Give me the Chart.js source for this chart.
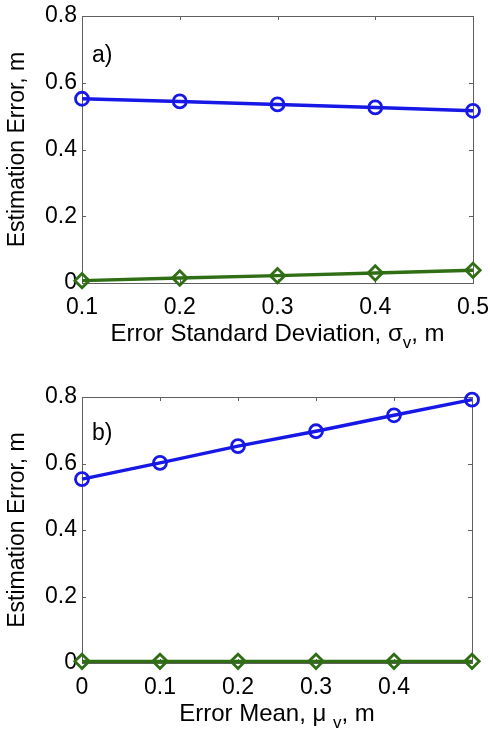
<!DOCTYPE html>
<html><head><meta charset="utf-8">
<script src="https://cdn.jsdelivr.net/npm/chart.js@4"></script>
<style>html,body{margin:0;padding:0;background:#fff;} canvas{display:block;}</style>
</head><body>
<canvas id="a" width="490" height="366"></canvas>
<canvas id="b" width="490" height="366"></canvas>
<script>
// ---- data ----
const sigmaX = [0.1, 0.2, 0.3, 0.4, 0.5];
const sigmaCircle = [0.552, 0.544, 0.535, 0.526, 0.516];
const sigmaDiamond = [0.007, 0.015, 0.022, 0.030, 0.038];
const muX = [0, 0.1, 0.2, 0.3, 0.4, 0.5];
const muCircle = [0.553, 0.602, 0.652, 0.697, 0.745, 0.792];
const muDiamond = [0.005, 0.005, 0.005, 0.005, 0.005, 0.005];
const yTicks = [0, 0.2, 0.4, 0.6, 0.8];
const yTickLabels = ['0', '0.2', '0.4', '0.6', '0.8'];
const sigmaTicks = [0.1, 0.2, 0.3, 0.4, 0.5];
const sigmaTickLabels = ['0.1', '0.2', '0.3', '0.4', '0.5'];
const muTicks = [0, 0.1, 0.2, 0.3, 0.4, 0.5];
const muTickLabels = ['0', '0.1', '0.2', '0.3', '0.4', ''];
const yTitle = 'Estimation Error, m';
const sigmaTitle = [['Error Standard Deviation, σ', false], ['v', true], [', m', false]];
const muTitle = [['Error Mean, μ ', false], ['v', true], [', m', false]];

const FONT = '"Liberation Sans", Arial, Helvetica, sans-serif';
const BLUE = '#1717e6';
const GREEN = '#2f6e14';

const framePlugin = {
  id: 'frame',
  beforeDatasetsDraw(chart, args, o) {
    const ctx = chart.ctx, a = chart.chartArea;
    const xs = chart.scales.x, ys = chart.scales.y;
    ctx.save();
    ctx.strokeStyle = '#606060';
    ctx.lineWidth = 1;
    ctx.strokeRect(Math.round(a.left) + 0.5, Math.round(a.top) + 0.5,
      Math.round(a.right - a.left), Math.round(a.bottom - a.top));
    ctx.beginPath();
    xs.ticks.forEach(t => {
      const p = Math.round(xs.getPixelForValue(t.value)) + 0.5;
      ctx.moveTo(p, a.bottom); ctx.lineTo(p, a.bottom - 4);
      ctx.moveTo(p, a.top); ctx.lineTo(p, a.top + 4);
    });
    ys.ticks.forEach(t => {
      const p = Math.round(ys.getPixelForValue(t.value)) + 0.5;
      ctx.moveTo(a.left, p); ctx.lineTo(a.left + 4, p);
      ctx.moveTo(a.right, p); ctx.lineTo(a.right - 4, p);
    });
    ctx.stroke();
    ctx.restore();
  },
  afterDraw(chart, args, o) {
    const ctx = chart.ctx, a = chart.chartArea;
    ctx.save();
    ctx.fillStyle = '#000';
    // panel label
    ctx.font = '23px ' + FONT;
    ctx.textAlign = 'left';
    ctx.textBaseline = 'alphabetic';
    ctx.fillText(o.panel, a.left + 10, a.top + o.panelDy);
    // y title
    ctx.save();
    ctx.translate(18, (a.top + a.bottom) / 2);
    ctx.rotate(-Math.PI / 2);
    ctx.textAlign = 'center';
    ctx.textBaseline = 'middle';
    ctx.font = '23px ' + FONT;
    ctx.fillText(yTitle, 0, 0);
    ctx.restore();
    // x title with subscript
    const big = '24px ' + FONT, small = '17px ' + FONT;
    let total = 0;
    o.xTitle.forEach(([t, sub]) => { ctx.font = sub ? small : big; total += ctx.measureText(t).width; });
    let x = (a.left + a.right) / 2 - total / 2;
    const base = a.bottom + 57.5;
    o.xTitle.forEach(([t, sub]) => {
      ctx.font = sub ? small : big;
      ctx.fillText(t, x, sub ? base + 7 : base);
      x += ctx.measureText(t).width;
    });
    ctx.restore();
  }
};

function makeChart(id, xs, circ, diam, xTicks, xLabels, xMin, xMax, padTop, padRight, xAxisH, panel, panelDy, xTitle) {
  const tickFont = { family: FONT, size: 23 };
  return new Chart(document.getElementById(id), {
    type: 'line',
    data: {
      datasets: [
        { data: xs.map((v, i) => ({ x: v, y: circ[i] })), borderColor: BLUE, borderWidth: 3.4,
          pointStyle: 'circle', pointRadius: 6.5, pointBorderWidth: 2.8, pointBorderColor: BLUE,
          pointBackgroundColor: 'rgba(0,0,0,0)', clip: false, tension: 0 },
        { data: xs.map((v, i) => ({ x: v, y: diam[i] })), borderColor: GREEN, borderWidth: 3.4,
          pointStyle: 'rectRot', pointRadius: 7.2, pointBorderWidth: 2.8, pointBorderColor: GREEN,
          pointBackgroundColor: 'rgba(0,0,0,0)', clip: false, tension: 0 }
      ]
    },
    options: {
      responsive: false,
      animation: false,
      layout: { padding: { top: padTop, right: padRight, left: 0, bottom: 0 } },
      plugins: {
        legend: { display: false }, tooltip: { enabled: false },
        frame: { panel, panelDy, xTitle }
      },
      scales: {
        x: {
          type: 'linear', min: xMin, max: xMax,
          afterBuildTicks: s => { s.ticks = xTicks.map(v => ({ value: v })); },
          afterFit: s => { s.height = xAxisH; s.paddingLeft = 0; s.paddingRight = 0; },
          ticks: { callback: (v, i) => xLabels[i], font: tickFont, color: '#000', padding: 11,
            maxRotation: 0, autoSkip: false },
          grid: { display: false, drawTicks: false },
          border: { display: false }
        },
        y: {
          type: 'linear', min: 0, max: 0.8,
          afterBuildTicks: s => { s.ticks = yTicks.map(v => ({ value: v })); },
          afterFit: s => { s.width = 82; s.paddingTop = 0; s.paddingBottom = 0; },
          ticks: { callback: (v, i) => yTickLabels[i], font: tickFont, color: '#000', padding: 5,
            autoSkip: false },
          grid: { display: false, drawTicks: false },
          border: { display: false }
        }
      }
    },
    plugins: [framePlugin]
  });
}

makeChart('a', sigmaX, sigmaCircle, sigmaDiamond, sigmaTicks, sigmaTickLabels, 0.1, 0.5,
  16, 17, 83, 'a)', 46, sigmaTitle);
makeChart('b', muX, muCircle, muDiamond, muTicks, muTickLabels, 0, 0.5,
  31, 18, 69, 'b)', 43, muTitle);
</script>
</body></html>
